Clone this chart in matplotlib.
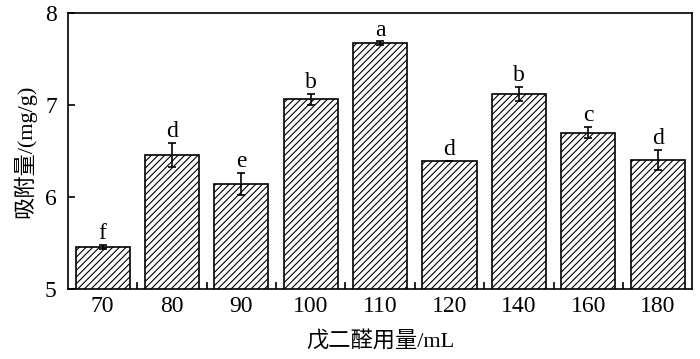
import numpy as np
import matplotlib
matplotlib.use("Agg")
import matplotlib.pyplot as plt
from matplotlib.ticker import FixedLocator

plt.rcParams['font.family'] = ['Liberation Serif', 'Noto Sans CJK SC']
plt.rcParams['hatch.linewidth'] = 0.8

categories = ['70', '80', '90', '100', '110', '120', '140', '160', '180']
values = [5.46, 6.46, 6.14, 7.06, 7.67, 6.39, 7.12, 6.70, 6.40]
errors = [0.02, 0.13, 0.12, 0.06, 0.02, 0.0, 0.08, 0.06, 0.11]
letters = ['f', 'd', 'e', 'b', 'a', 'd', 'b', 'c', 'd']

fig, ax = plt.subplots(figsize=(7, 3.59), dpi=100)
fig.subplots_adjust(left=0.097, right=0.989, top=0.964, bottom=0.195)

x = np.arange(len(categories))
ax.bar(x, values, width=0.78, color='white', edgecolor='black', linewidth=1.2,
       hatch='/////')
ax.errorbar(x, values, yerr=errors, fmt='none', ecolor='black', elinewidth=1.2,
            capsize=3, capthick=1.2)
for xi, v, e, lab in zip(x, values, errors, letters):
    ax.text(xi, v + e + 0.01, lab, ha='center', va='bottom', fontsize=17)

ax.set_xlim(-0.5, len(categories) - 0.5)
ax.set_ylim(5, 8)
ax.set_xticks(x)
ax.set_xticklabels(categories)
ax.tick_params(axis='x', which='major', length=0, labelsize=17, pad=5)
ax.xaxis.set_minor_locator(FixedLocator(x[:-1] + 0.5))
ax.tick_params(axis='x', which='minor', direction='in', length=5, width=1.2)
ax.set_yticks([5, 6, 7, 8])
ax.tick_params(axis='y', direction='in', length=5, width=1.2, labelsize=17, pad=8)
for s in ax.spines.values():
    s.set_linewidth(1.2)

ax.set_xlabel('戊二醛用量/mL', fontsize=16, labelpad=10)
ax.set_ylabel('吸附量/(mg/g)', fontsize=16, labelpad=6)

fig.savefig('out.png', dpi=100)
